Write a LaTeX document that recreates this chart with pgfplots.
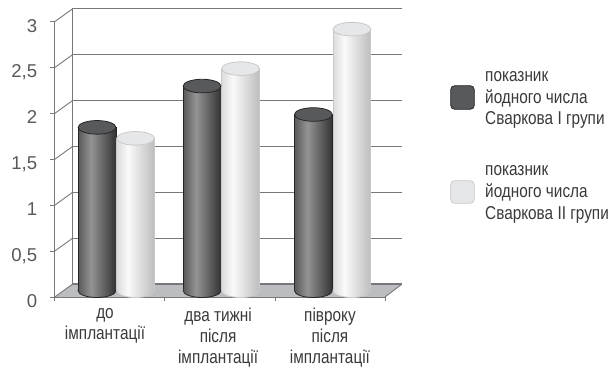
\documentclass[border=0pt]{standalone}
\usepackage{pgfplots}
\pgfplotsset{compat=1.18}
\usepackage{fontspec}
\setmainfont{Liberation Sans}
\newfontfamily\narrowfont[FakeStretch=0.825]{Liberation Sans}

\definecolor{axisgrey}{HTML}{77787B}
\definecolor{ticktext}{HTML}{58595B}
\definecolor{labeltext}{HTML}{3A3A3C}
\definecolor{floorgrey}{HTML}{BCBDC0}
\definecolor{darktop}{HTML}{58595B}
\definecolor{darkedge}{HTML}{26262A}
\definecolor{lighttop}{HTML}{E6E7E8}
\definecolor{lightedge}{HTML}{C8C9CB}

% Cylinder side shadings; the path spans 25bp to 75bp of the ramp.
\pgfdeclarehorizontalshading{darkcyl}{100bp}{
  color(0bp)=(black!65!white);
  color(25bp)=(black!65!white);
  color(42bp)=(black!42!white);
  color(75bp)=(black!80!white);
  color(100bp)=(black!80!white)}
\pgfdeclarehorizontalshading{lightcyl}{100bp}{
  color(0bp)=(black!14!white);
  color(25bp)=(black!14!white);
  color(40bp)=(black!2!white);
  color(75bp)=(black!26!white);
  color(100bp)=(black!26!white)}

% Elliptical caps and rounded feet of the cylinders.
\newcommand\capmark[2]{%
  \pgfsetlinewidth{0.8pt}\pgfsetfillcolor{#1}\pgfsetstrokecolor{#2}%
  \pgfpathellipse{\pgfpointorigin}{\pgfpoint{18.9pt}{0pt}}{\pgfpoint{0pt}{6.8pt}}%
  \pgfusepathqfillstroke}
\newcommand\footarc{%
  \pgfpathcurveto{\pgfpoint{-18.9pt}{-3.76pt}}{\pgfpoint{-10.44pt}{-6.8pt}}{\pgfpoint{0pt}{-6.8pt}}%
  \pgfpathcurveto{\pgfpoint{10.44pt}{-6.8pt}}{\pgfpoint{18.9pt}{-3.76pt}}{\pgfpoint{18.9pt}{0pt}}}
\newcommand\footmark[2]{%
  \pgfsetlinewidth{0.8pt}\pgfsetstrokecolor{#2}%
  \pgfpathmoveto{\pgfpoint{-18.9pt}{1.2pt}}%
  \pgfpathlineto{\pgfpoint{-18.9pt}{0pt}}%
  \footarc
  \pgfpathlineto{\pgfpoint{18.9pt}{1.2pt}}%
  \pgfpathclose
  \pgfshadepath{#1}{0}%
  \pgfusepath{discard}%
  \pgfpathmoveto{\pgfpoint{-18.9pt}{1.2pt}}%
  \pgfpathlineto{\pgfpoint{-18.9pt}{0pt}}%
  \footarc
  \pgfpathlineto{\pgfpoint{18.9pt}{1.2pt}}%
  \pgfusepath{stroke}}
\pgfdeclareplotmark{darkcap}{\capmark{darktop}{darkedge}}
\pgfdeclareplotmark{lightcap}{\capmark{lighttop}{lightedge}}
\pgfdeclareplotmark{darkfoot}{\footmark{darkcyl}{darkedge}}
\pgfdeclareplotmark{lightfoot}{\footmark{lightcyl}{lightedge}}

% One column: side, rounded foot and elliptical cap at position #2, value #3.
\newcommand\cylinder[3]{%
  \addplot[ybar, bar width=37.8pt, bar shift=0pt, shading=#1cyl, draw=#1edge, line width=0.8pt]
    coordinates {(#2,#3)};
  \addplot[only marks, mark=#1foot] coordinates {(#2,0)};
  \addplot[only marks, mark=#1cap] coordinates {(#2,#3)};
}

\pgfplotsset{
  common/.style={
    scale only axis, anchor=south west, clip=false,
    ymin=0, ymax=3, height=275.3pt,
  },
}

\begin{document}
\begin{tikzpicture}[x=1pt,y=1pt]
\path[use as bounding box] (0,0) rectangle (611,367);

% Back wall with its horizontal rules.
\begin{axis}[common, at={(72.3pt,83pt)}, width=329.4pt,
  xmin=-0.5, xmax=2.5, xtick=\empty,
  ytick={0,0.5,...,3}, yticklabels={},
  major tick length=0pt,
  ymajorgrids, grid style={axisgrey,line width=1pt},
  axis x line=none, axis y line=left,
  axis line style={-,axisgrey,line width=0.9pt}]
\end{axis}

% Front frame: floor, side wall, ticks and labels.
\begin{axis}[common, at={(54.7pt,70pt)}, width=330.3pt,
  xmin=-0.5, xmax=2.5,
  axis x line=bottom, axis y line=left,
  axis line style={-,axisgrey,line width=0.9pt},
  tick style={axisgrey,line width=0.8pt},
  major tick length=4.5pt, tick align=outside,
  ytick={0,0.5,...,3},
  /pgf/number format/use comma,
  /pgf/number format/assume math mode=true,
  y tick label style={font=\fontsize{18.6}{20}\selectfont, text=ticktext,
    text height=13.3pt, text depth=2.6pt, yshift=-5pt, xshift=-9.5pt},
  xtick={-0.5,0.5,1.5,2.5}, xticklabels={},
  extra x ticks={-0.043,0.984,2},
  extra x tick labels={до\\імплантації, два тижні\\після\\імплантації, півроку\\після\\імплантації},
  extra x tick style={
    major tick length=0pt,
    tick label style={font=\narrowfont\fontsize{18.6}{20.9}\selectfont, text=labeltext,
      align=center, anchor=north, yshift=-7.6pt},
  },
]
\fill[floorgrey] (axis cs:-0.5,0) -- (axis cs:2.5,0)
  -- ([shift={(16.7pt,12.7pt)}]axis cs:2.5,0)
  -- ([shift={(17.6pt,12.7pt)}]axis cs:-0.5,0) -- cycle;
\draw[axisgrey,line width=0.9pt] (axis cs:2.5,0) -- ([shift={(16.7pt,12.7pt)}]axis cs:2.5,0);
\draw[axisgrey,line width=0.9pt] ([shift={(17.6pt,12.7pt)}]axis cs:-0.5,0) -- ([shift={(16.7pt,12.7pt)}]axis cs:2.5,0);
\foreach \v in {0,0.5,...,3}{
  \edef\temp{\noexpand\draw[axisgrey,line width=0.9pt] (axis cs:-0.5,\v) -- ([shift={(17.6pt,12.7pt)}]axis cs:-0.5,\v);}
  \temp
}
\end{axis}

% Cylinders stand at mid depth, half way between front frame and back wall.
\begin{axis}[common, at={(63.45pt,76.3pt)}, width=330.3pt,
  xmin=-0.5, xmax=2.5, axis lines=none]
\cylinder{dark}{-0.195}{1.78}
\cylinder{light}{0.155}{1.66}
\cylinder{dark}{0.759}{2.23}
\cylinder{light}{1.109}{2.42}
\cylinder{dark}{1.770}{1.92}
\cylinder{light}{2.120}{2.85}
\end{axis}

% Key to the two groups.
\path[fill=darktop,draw=darkedge,line width=0.8pt,rounded corners=4pt] (450.7,257.7) rectangle (474.3,281.3);
\path[fill=lighttop,draw=lightedge,line width=0.8pt,rounded corners=4pt] (450.7,163.7) rectangle (474.3,186.3);
\node[anchor=west,inner sep=0pt,align=left,text=labeltext,font=\narrowfont\fontsize{18.6}{21.9}\selectfont] at (485,267)
  {показник\\йодного числа\\Сваркова I групи};
\node[anchor=west,inner sep=0pt,align=left,text=labeltext,font=\narrowfont\fontsize{18.6}{21.9}\selectfont] at (485,172.5)
  {показник\\йодного числа\\Сваркова II групи};
\end{tikzpicture}
\end{document}
